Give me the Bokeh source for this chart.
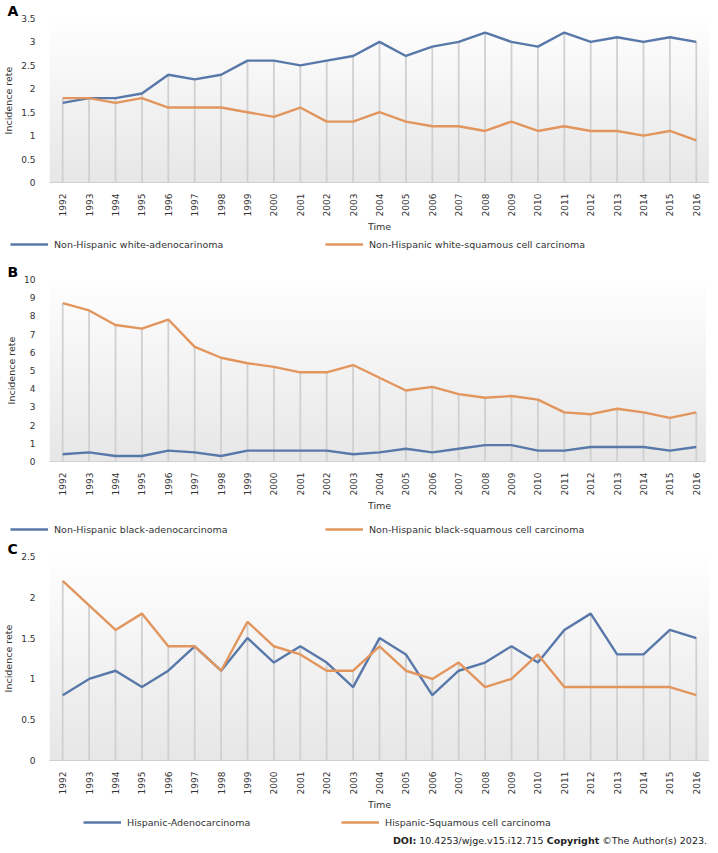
import numpy as np
from bokeh.plotting import figure
from bokeh.models import (Range1d, Legend, LegendItem,
                          NumeralTickFormatter, FixedTicker, Div, ColumnDataSource)
from bokeh.layouts import column
from bokeh.embed import file_html
from bokeh.resources import INLINE

# ---------------- data ----------------
years = ["1992", "1993", "1994", "1995", "1996", "1997", "1998", "1999", "2000",
         "2001", "2002", "2003", "2004", "2005", "2006", "2007", "2008", "2009",
         "2010", "2011", "2012", "2013", "2014", "2015", "2016"]

white_adeno = [1.7, 1.8, 1.8, 1.9, 2.3, 2.2, 2.3, 2.6, 2.6, 2.5, 2.6, 2.7, 3.0,
               2.7, 2.9, 3.0, 3.2, 3.0, 2.9, 3.2, 3.0, 3.1, 3.0, 3.1, 3.0]
white_scc = [1.8, 1.8, 1.7, 1.8, 1.6, 1.6, 1.6, 1.5, 1.4, 1.6, 1.3, 1.3, 1.5,
             1.3, 1.2, 1.2, 1.1, 1.3, 1.1, 1.2, 1.1, 1.1, 1.0, 1.1, 0.9]

black_adeno = [0.4, 0.5, 0.3, 0.3, 0.6, 0.5, 0.3, 0.6, 0.6, 0.6, 0.6, 0.4, 0.5,
               0.7, 0.5, 0.7, 0.9, 0.9, 0.6, 0.6, 0.8, 0.8, 0.8, 0.6, 0.8]
black_scc = [8.7, 8.3, 7.5, 7.3, 7.8, 6.3, 5.7, 5.4, 5.2, 4.9, 4.9, 5.3, 4.6,
             3.9, 4.1, 3.7, 3.5, 3.6, 3.4, 2.7, 2.6, 2.9, 2.7, 2.4, 2.7]

hisp_adeno = [0.8, 1.0, 1.1, 0.9, 1.1, 1.4, 1.1, 1.5, 1.2, 1.4, 1.2, 0.9, 1.5,
              1.3, 0.8, 1.1, 1.2, 1.4, 1.2, 1.6, 1.8, 1.3, 1.3, 1.6, 1.5]
hisp_scc = [2.2, 1.9, 1.6, 1.8, 1.4, 1.4, 1.1, 1.7, 1.4, 1.3, 1.1, 1.1, 1.4,
            1.1, 1.0, 1.2, 0.9, 1.0, 1.3, 0.9, 0.9, 0.9, 0.9, 0.9, 0.8]

names_a = ["Non-Hispanic white-adenocarinoma", "Non-Hispanic white-squamous cell carcinoma"]
names_b = ["Non-Hispanic black-adenocarcinoma", "Non-Hispanic black-squamous cell carcinoma"]
names_c = ["Hispanic-Adenocarcinoma", "Hispanic-Squamous cell carcinoma"]

ticks_a = [0, 0.5, 1, 1.5, 2, 2.5, 3, 3.5]
ticks_b = [0, 1, 2, 3, 4, 5, 6, 7, 8, 9, 10]
ticks_c = [0, 0.5, 1, 1.5, 2, 2.5]

# ---------------- style ----------------
BLUE = "#5878a9"
ORANGE = "#e2955d"
DROP = "#d0d0d0"
TXT = "#333333"
FONT = "DejaVu Sans"
FS_TICK = "9px"
FS = "9.5px"

xpos = list(range(len(years)))           # category slots


def gradient_image(n=128):
    t = np.linspace(0.0, 1.0, n)[:, None]          # 0 = bottom, 1 = top
    bottom, top = np.array([231, 231, 231]), np.array([255, 255, 255])
    rgb = bottom + (top - bottom) * t
    img = np.empty((n, 1), dtype=np.uint32)
    view = img.view(dtype=np.uint8).reshape((n, 1, 4))
    view[:, 0, 0] = rgb[:, 0]
    view[:, 0, 1] = rgb[:, 1]
    view[:, 0, 2] = rgb[:, 2]
    view[:, 0, 3] = 255
    return img


def panel(tag, s1, s2, ticks, frame_h):
    x0, x1 = -0.5, len(years) - 0.5
    p = figure(x_range=Range1d(x0, x1), y_range=Range1d(ticks[0], ticks[-1]),
               frame_width=660, frame_height=frame_h,
               min_border_left=42, min_border_right=0, min_border_top=0,
               min_border_bottom=0, output_backend="svg", toolbar_location=None,
               background_fill_color=None, border_fill_color="white",
               outline_line_color=None, title=tag)
    p.title.align = "left"
    p.title.offset = -42
    p.title.standoff = 0
    p.title.text_font = FONT
    p.title.text_font_size = "14px"
    p.title.text_font_style = "bold"
    p.title.text_color = "black"

    p.image_rgba(image=[gradient_image()], x=x0, y=ticks[0], dw=x1 - x0,
                 dh=ticks[-1] - ticks[0])

    src = ColumnDataSource(dict(x=xpos, a=s1, b=s2,
                                top=[max(u, v) for u, v in zip(s1, s2)],
                                zero=[0] * len(years)))
    p.segment(x0="x", y0="zero", x1="x", y1="top", source=src,
              line_color=DROP, line_width=1.8)
    p.line("x", "a", source=src, line_color=BLUE, line_width=2.4)
    p.line("x", "b", source=src, line_color=ORANGE, line_width=2.4)

    p.grid.visible = False

    xa = p.xaxis[0]
    xa.ticker = FixedTicker(ticks=xpos)
    xa.major_label_overrides = {i: y for i, y in zip(xpos, years)}
    xa.axis_label = "Time"
    xa.axis_label_text_font = FONT
    xa.axis_label_text_font_size = FS
    xa.axis_label_text_font_style = "normal"
    xa.axis_label_text_color = TXT
    xa.axis_label_standoff = 2
    xa.axis_line_color = DROP
    xa.axis_line_width = 1.2
    xa.major_tick_line_color = None
    xa.minor_tick_line_color = None
    xa.major_label_orientation = np.pi / 2
    xa.major_label_standoff = 5
    xa.major_label_text_font = FONT
    xa.major_label_text_font_size = FS_TICK
    xa.major_label_text_color = TXT

    ya = p.yaxis[0]
    ya.ticker = FixedTicker(ticks=ticks)
    ya.formatter = NumeralTickFormatter(format="0.[0]")
    ya.axis_label = "Incidence rete"
    ya.axis_label_text_font = FONT
    ya.axis_label_text_font_size = FS
    ya.axis_label_text_font_style = "normal"
    ya.axis_label_text_color = TXT
    ya.axis_label_standoff = 4
    ya.axis_line_color = None
    ya.major_tick_line_color = None
    ya.minor_tick_line_color = None
    ya.major_label_standoff = 8
    ya.major_label_text_font = FONT
    ya.major_label_text_font_size = FS_TICK
    ya.major_label_text_color = TXT
    return p


def legend_strip(names, h, lx, ly, label_w):
    s = figure(x_range=Range1d(0, 1), y_range=Range1d(0, 1),
               frame_width=702, frame_height=h, min_border=0,
               x_axis_location=None, y_axis_location=None,
               output_backend="svg", toolbar_location=None,
               background_fill_color=None, border_fill_color="white",
               outline_line_color=None)
    s.grid.visible = False
    # off-frame stand-ins that only provide the legend swatches
    r1 = s.line(x=[5, 6], y=[5, 6], line_color=BLUE, line_width=2.4)
    r2 = s.line(x=[5, 6], y=[5, 6], line_color=ORANGE, line_width=2.4)
    leg = Legend(items=[LegendItem(label=names[0], renderers=[r1]),
                        LegendItem(label=names[1], renderers=[r2])],
                 orientation="horizontal", location=(lx, ly),
                 glyph_width=38, glyph_height=14, label_standoff=6,
                 label_width=label_w, spacing=0, padding=0, margin=0,
                 border_line_color=None, background_fill_alpha=0,
                 label_text_font=FONT, label_text_font_size=FS,
                 label_text_color=TXT, label_height=14)
    s.add_layout(leg, "center")
    return s


pa = panel("A", white_adeno, white_scc, ticks_a, 164)
la = legend_strip(names_a, 26, 10, 10, 271)
pb = panel("B", black_adeno, black_scc, ticks_b, 182)
lb = legend_strip(names_b, 24, 10, 2, 271)
pc = panel("C", hisp_adeno, hisp_scc, ticks_c, 204)
lc = legend_strip(names_c, 16, 83, 0, 214)

doi = Div(text='<b>DOI:</b> 10.4253/wjge.v15.i12.715 <b>Copyright</b> &copy;The Author(s) 2023.',
          width=702, height=13,
          styles={"text-align": "right", "font-family": "DejaVu Sans",
                  "font-size": "9.5px", "color": "#222222", "line-height": "13px"})

layout = column(pa, la, pb, lb, pc, lc, doi, spacing=0)
open("out.html", "w").write(file_html(layout, INLINE))
